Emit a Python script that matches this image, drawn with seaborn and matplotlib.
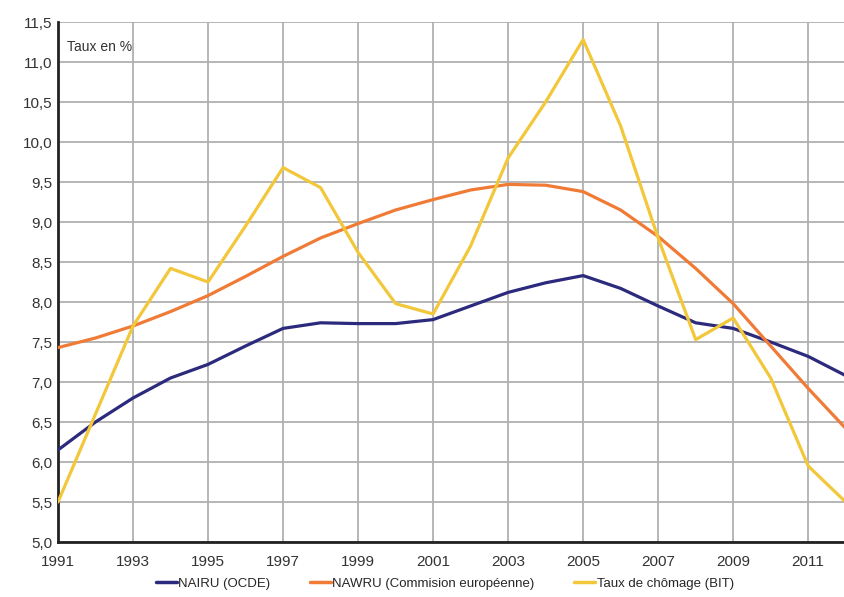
import matplotlib
matplotlib.use("Agg")
import matplotlib.pyplot as plt
from matplotlib.ticker import FuncFormatter, MultipleLocator, FixedLocator
import numpy as np
import pandas as pd
import seaborn as sns

years = list(range(1991, 2013))
year_ticks = list(range(1991, 2012, 2))

nairu_ocde = [6.15, 6.50, 6.80, 7.05, 7.22, 7.45, 7.67, 7.74, 7.73, 7.73, 7.78,
              7.95, 8.12, 8.24, 8.33, 8.17, 7.95, 7.74, 7.67, 7.50, 7.32, 7.08]
nawru_ce = [7.43, 7.55, 7.70, 7.88, 8.08, 8.32, 8.57, 8.80, 8.98, 9.15, 9.28,
            9.40, 9.47, 9.46, 9.38, 9.15, 8.82, 8.42, 7.98, 7.45, 6.92, 6.42]
chomage_bit = [5.50, 6.60, 7.70, 8.42, 8.25, 8.95, 9.68, 9.43, 8.62, 7.98, 7.85,
               8.70, 9.80, 10.50, 11.28, 10.20, 8.80, 7.53, 7.80, 7.05, 5.95, 5.50]

series_names = ["NAIRU (OCDE)", "NAWRU (Commision européenne)", "Taux de chômage (BIT)"]
series_colors = ["#2b2a7c", "#ef7b36", "#f2c73a"]

df = pd.concat([
    pd.DataFrame({"annee": years, "taux": vals, "serie": name})
    for name, vals in zip(series_names, [nairu_ocde, nawru_ce, chomage_bit])
], ignore_index=True)

sns.set_theme(style="white")
plt.rcParams["font.family"] = ["Liberation Sans Narrow", "Liberation Sans", "DejaVu Sans"]

fig = plt.figure(figsize=(8.44, 5.97), dpi=100)
ax = fig.add_axes([58 / 844, 55 / 597, 1 - 58 / 844 + 0.002, 520 / 597])

sns.lineplot(data=df, x="annee", y="taux", hue="serie", hue_order=series_names,
             palette=series_colors, linewidth=2.3, ax=ax, legend=False, zorder=3)

ax.set_xlim(1991, 2012)
ax.set_ylim(5.0, 11.5)
ax.xaxis.set_major_locator(FixedLocator(year_ticks))
ax.yaxis.set_major_locator(MultipleLocator(0.5))
ax.yaxis.set_major_formatter(FuncFormatter(lambda v, p: f"{v:.1f}".replace(".", ",")))
ax.xaxis.set_major_formatter(FuncFormatter(lambda v, p: f"{int(v)}"))
ax.grid(True, color="#b0b0b0", linewidth=1.3)
ax.set_axisbelow(True)
ax.set_xlabel("")
ax.set_ylabel("")
ax.tick_params(axis="both", labelsize=11, colors="#333333", length=0)
ax.tick_params(axis="y", pad=4)
ax.tick_params(axis="x", pad=9)

for side in ["top", "right"]:
    ax.spines[side].set_visible(False)
for side in ["left", "bottom"]:
    ax.spines[side].set_color("#222222")
    ax.spines[side].set_linewidth(2)

ax.text(0.012, 0.965, "Taux en %", transform=ax.transAxes, fontsize=10,
        color="#333333", va="top", ha="left")

handles = [plt.Line2D([], [], color=c, linewidth=2.5) for c in series_colors]
fig.legend(handles, series_names, loc="center", bbox_to_anchor=(0.527, 0.022),
           ncol=3, frameon=False, fontsize=9.5, handlelength=1.6,
           handletextpad=0.1, columnspacing=3.0)

fig.savefig("out.png", dpi=100)
